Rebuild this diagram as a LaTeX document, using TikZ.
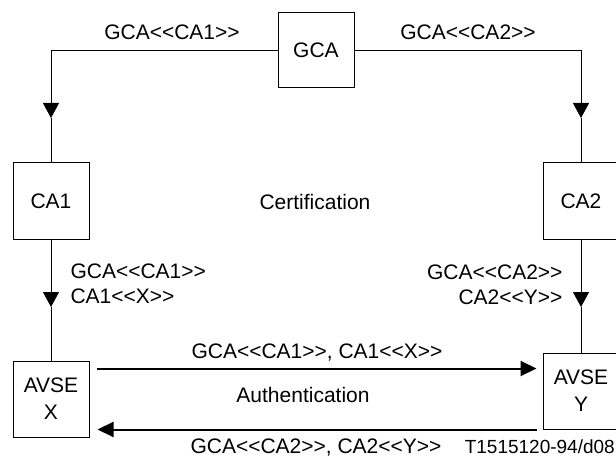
\documentclass[tikz,border=0pt]{standalone}
\usepackage{fontspec}
\newfontfamily\diagfont{Liberation Sans}
\usetikzlibrary{arrows.meta,calc}

\begin{document}
\begin{tikzpicture}[x=1pt,y=1pt,
    font=\diagfont\fontsize{21}{25}\selectfont,
    box/.style={draw, line width=1pt, minimum width=76pt, minimum height=76pt,
        inner sep=0pt, align=center},
    link/.style={line width=1pt},
    down/.style={link, -{Triangle[width=16pt,length=15pt]}},
    authline/.style={line width=2pt, -{Triangle[width=15pt,length=16pt]}}]
    % Page frame
    \useasboundingbox (0,0) rectangle (616,456);

    % Certification authorities
    \node[box, minimum height=75pt] (gca) at (316,405.5) {GCA};
    \node[box] (ca1) at (51,255) {CA1};
    \node[box] (ca2) at (581,255) {CA2};

    % End entities
    \node[box, font=\diagfont\fontsize{21}{27}\selectfont] (avsex) at (51,57) {AVSE\\X};
    \node[box, font=\diagfont\fontsize{21}{27}\selectfont] (avsey) at (581,65) {AVSE\\Y};

    % Arrow tips halfway down the vertical links
    \coordinate (tipca1) at (51,338);
    \coordinate (tipca2) at (581,338);
    \coordinate (tipx) at (51,149);
    \coordinate (tipy) at (581,149);

    % Certification links
    \draw[down] (gca.west) -| (tipca1);
    \draw[link] (tipca1) -- (ca1.north);
    \draw[down] (gca.east) -| (tipca2);
    \draw[link] (tipca2) -- (ca2.north);
    \draw[down] (ca1.south) -- (tipx);
    \draw[link] (tipx) -- (avsex.north);
    \draw[down] (ca2.south) -- (tipy);
    \draw[link] (tipy) -- (avsey.north);

    % Authentication exchange
    \draw[authline] ($(avsex.north east)+(7,-8)$) -- ($(avsey.north west)+(-6,-16)$);
    \draw[authline] ($(avsey.south west)+(-6,0)$) -- ($(avsex.south east)+(8,8)$);

    % Labels
    \node (lblca1) at (172,424) {GCA<<CA1>>};
    \node (lblca2) at (468,424) {GCA<<CA2>>};
    \node (lblcert) at (315,254) {Certification};
    \node[anchor=west, align=left] (lblx) at (67,172.5) {GCA<<CA1>>\\CA1<<X>>};
    \node[anchor=east, align=right] (lbly) at (566,171.5) {GCA<<CA2>>\\CA2<<Y>>};
    \node[anchor=base] (lblxy) at (317,98) {GCA<<CA1>>, CA1<<X>>};
    \node (lblauth) at (303,61) {Authentication};
    \node[anchor=base] (lblyx) at (316,3) {GCA<<CA2>>, CA2<<Y>>};
    \node[anchor=base east, inner xsep=1pt, font=\diagfont\fontsize{19}{23}\selectfont] (lblref) at (616,3) {T1515120-94/d08};
\end{tikzpicture}
\end{document}
